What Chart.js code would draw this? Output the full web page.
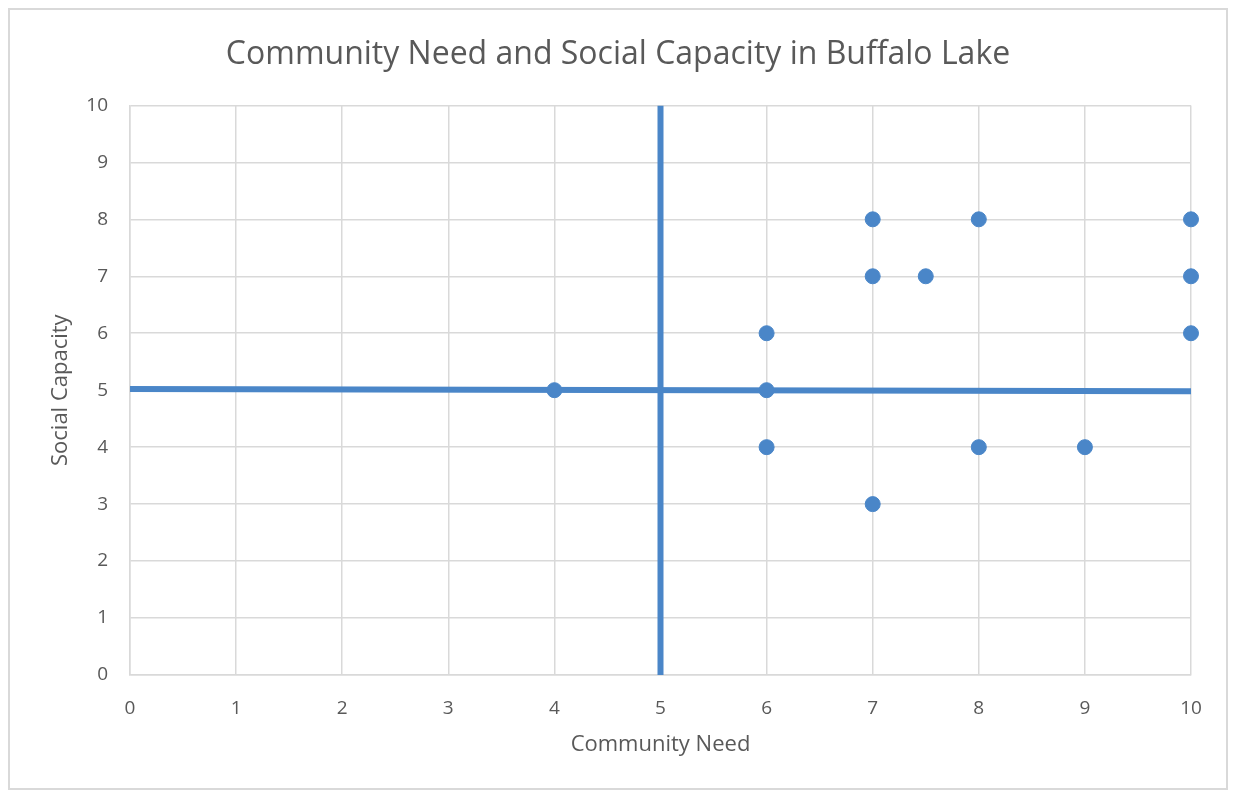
<!DOCTYPE html>
<html>
<head>
<meta charset="utf-8">
<script src="https://cdn.jsdelivr.net/npm/chart.js@4"></script>
<style>
  body { margin: 0; background: #fff; }
  .frame { position: absolute; left: 8px; top: 8px; width: 1216px; height: 778px; border: 2px solid #d9d9d9; }
  canvas { display: block; }
</style>
</head>
<body>
<div class="frame"><canvas id="chart" width="1216" height="778"></canvas></div>
<script>
// community need (x) vs social capacity (y)
const needValues = [4, 6, 6, 6, 7, 7, 7, 7.5, 8, 8, 9, 10, 10, 10];
const capacityValues = [5, 6, 5, 4, 8, 7, 3, 7, 8, 4, 4, 8, 7, 6];

// quadrant dividers
const hLineX = [0, 10];
const hLineY = [5.02, 4.98];
const vLineX = [5, 5];
const vLineY = [0, 10];

const blue = '#4a86c8';
const grey = '#595959';
const fontFam = "'Open Sans', sans-serif";

const toPoints = (xs, ys) => xs.map((x, i) => ({x: x, y: ys[i]}));

const ctx = document.getElementById('chart');

new Chart(ctx, {
    type: 'scatter',
    data: {
        datasets: [{
            label: 'Buffalo Lake',
            data: toPoints(needValues, capacityValues),
            backgroundColor: blue,
            borderColor: blue,
            pointRadius: 7.5,
            clip: false,
            order: 0
        }, {
            type: 'line',
            data: toPoints(hLineX, hLineY),
            borderColor: blue,
            borderWidth: 6,
            pointRadius: 0,
            order: 1
        }, {
            type: 'line',
            data: toPoints(vLineX, vLineY),
            borderColor: blue,
            borderWidth: 6,
            pointRadius: 0,
            order: 1
        }]
    },
    options: {
        responsive: false,
        animation: false,
        layout: { padding: 0 },
        plugins: {
            legend: { display: false },
            tooltip: { enabled: false },
            title: {
                display: true,
                text: 'Community Need and Social Capacity in Buffalo Lake',
                color: grey,
                font: { family: fontFam, size: 32, weight: 'normal' },
                padding: { top: 26, bottom: 31 }
            }
        },
        scales: {
            x: {
                type: 'linear',
                min: 0, max: 10,
                ticks: { stepSize: 1, color: grey, font: { family: fontFam, size: 19 }, padding: 22 },
                grid: { color: '#d9d9d9', lineWidth: 1.5, drawTicks: false },
                border: { color: '#d9d9d9', width: 1.5 },
                title: {
                    display: true,
                    text: 'Community Need',
                    color: grey,
                    font: { family: fontFam, size: 22 },
                    padding: { top: 0, bottom: 30 }
                },
                afterFit: (s) => { s.height = 113; }
            },
            y: {
                type: 'linear',
                min: 0, max: 10,
                ticks: { stepSize: 1, color: grey, font: { family: fontFam, size: 19 }, padding: 22 },
                grid: { color: '#d9d9d9', lineWidth: 1.5, drawTicks: false },
                border: { color: '#d9d9d9', width: 1.5 },
                title: {
                    display: true,
                    text: 'Social Capacity',
                    color: grey,
                    font: { family: fontFam, size: 22 },
                    padding: { top: 38, bottom: 0 }
                },
                afterFit: (s) => { s.width = 120; }
            },
            // empty right-hand spacer so the title stays centred on the whole frame
            yRight: {
                type: 'linear',
                position: 'right',
                min: 0, max: 10,
                grid: { display: false },
                border: { display: false },
                ticks: { display: false },
                afterFit: (s) => { s.width = 35; }
            }
        }
    }
});
</script>
</body>
</html>
